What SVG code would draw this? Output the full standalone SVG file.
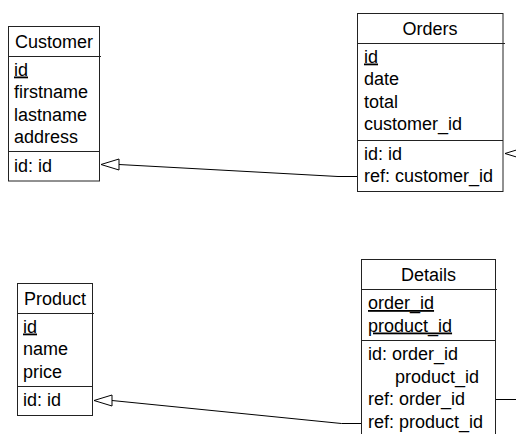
<svg xmlns="http://www.w3.org/2000/svg" width="516" height="434" viewBox="0 0 516 434">
  <style>
    .box { fill: #fff; stroke: #222; stroke-width: 1; }
    .sep { stroke: #222; stroke-width: 1; }
    .t { font-family: "Liberation Sans", Arial, sans-serif; font-size: 18px; fill: #000; }
    .title { text-anchor: middle; }
    .key { text-decoration: underline; }
    .link { fill: none; stroke: #000; stroke-width: 1; marker-end: url(#ref); }
  </style>
  <defs>
    <!-- hollow triangle used at the referenced (identifier) end -->
    <marker id="ref" markerUnits="userSpaceOnUse" markerWidth="20" markerHeight="14" refX="18" refY="6" orient="auto" overflow="visible">
      <path d="M0,0.5 L18,6 L0,11.5 Z" fill="#fff" stroke="#000" stroke-width="1"/>
    </marker>
  </defs>

  <g id="connectors">
    <path class="link" d="M357,176.5 H338 L119,164.5 H101"/>
    <path class="link" d="M362,423.5 H341.5 L112,400.5 H94"/>
    <path class="link" d="M496,399.5 H530 V153.5 H505"/>
  </g>

  <g id="customer">
    <rect class="box" x="8.5" y="26.5" width="91" height="154.5"/>
    <line class="sep" x1="8.5" y1="56.5" x2="101" y2="56.5"/>
    <line class="sep" x1="8.5" y1="151.5" x2="99.5" y2="151.5"/>
    <text class="t title" x="54" y="48">Customer</text>
    <text class="t key" x="14" y="75.5">id</text>
    <text class="t" x="14" y="98">firstname</text>
    <text class="t" x="14" y="120.5">lastname</text>
    <text class="t" x="14" y="143">address</text>
    <text class="t" x="14" y="171.5">id: id</text>
  </g>

  <g id="orders">
    <rect class="box" x="357.5" y="13.5" width="145.5" height="178"/>
    <line class="sep" x1="357.5" y1="43.5" x2="505" y2="43.5"/>
    <line class="sep" x1="357.5" y1="140.5" x2="503" y2="140.5"/>
    <text class="t title" x="430" y="35">Orders</text>
    <text class="t key" x="364" y="62.5">id</text>
    <text class="t" x="364" y="85">date</text>
    <text class="t" x="364" y="107.5">total</text>
    <text class="t" x="364" y="130">customer_id</text>
    <text class="t" x="364" y="159.5">id: id</text>
    <text class="t" x="364" y="182">ref: customer_id</text>
  </g>

  <g id="product">
    <rect class="box" x="17.5" y="283.5" width="75" height="132"/>
    <line class="sep" x1="17.5" y1="313.5" x2="94" y2="313.5"/>
    <line class="sep" x1="17.5" y1="386.5" x2="92.5" y2="386.5"/>
    <text class="t title" x="55" y="305">Product</text>
    <text class="t key" x="23" y="332.5">id</text>
    <text class="t" x="23" y="355">name</text>
    <text class="t" x="23" y="377.5">price</text>
    <text class="t" x="23" y="406">id: id</text>
  </g>

  <g id="details">
    <rect class="box" x="361.5" y="259.5" width="134" height="180"/>
    <line class="sep" x1="361.5" y1="289.5" x2="497" y2="289.5"/>
    <line class="sep" x1="361.5" y1="340.5" x2="495.5" y2="340.5"/>
    <text class="t title" x="428.5" y="281">Details</text>
    <text class="t key" x="368" y="309">order_id</text>
    <text class="t key" x="368" y="331.5">product_id</text>
    <text class="t" x="368" y="360">id: order_id</text>
    <text class="t" x="395" y="382.5">product_id</text>
    <text class="t" x="368" y="405">ref: order_id</text>
    <text class="t" x="368" y="427.5">ref: product_id</text>
  </g>
</svg>
